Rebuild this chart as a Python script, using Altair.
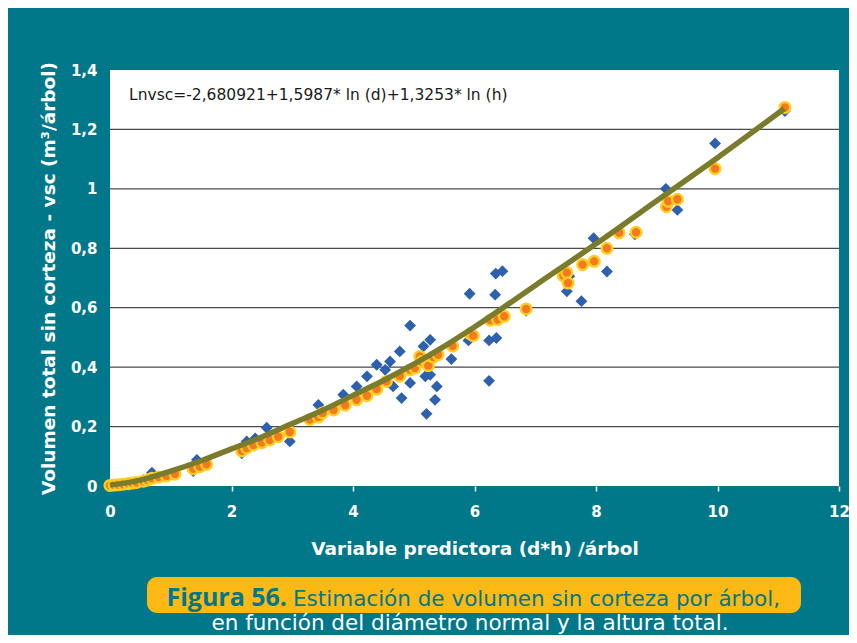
import altair as alt
import pandas as pd

# ---- data ----
obs_x = [0.0, 0.1, 0.25, 0.4, 0.55, 0.69, 0.95, 1.37, 1.43, 1.55,
         2.17, 2.25, 2.39, 2.58, 2.96, 3.3, 3.43,
         3.84, 4.06, 4.23, 4.39, 4.53, 4.61, 4.66, 4.74, 4.77, 4.80, 4.94, 4.94,
         5.16, 5.27, 5.19, 5.27, 5.38, 5.35, 5.21, 5.62, 5.9, 5.92,
         6.24, 6.36, 6.24, 6.34, 6.35, 6.46, 6.85,
         7.52, 7.56, 7.76, 7.96, 8.18, 8.64, 9.15, 9.34, 9.96, 11.11]
obs_y = [0.0, 0.003, 0.006, 0.01, 0.02, 0.045, 0.035, 0.05, 0.088, 0.075,
         0.11, 0.15, 0.16, 0.196, 0.15, 0.225, 0.273,
         0.307, 0.335, 0.369, 0.408, 0.391, 0.419, 0.335, 0.369, 0.453, 0.296, 0.54, 0.347,
         0.47, 0.492, 0.369, 0.374, 0.335, 0.29, 0.243, 0.427, 0.49, 0.647,
         0.49, 0.498, 0.354, 0.644, 0.715, 0.723, 0.59,
         0.655, 0.706, 0.622, 0.834, 0.722, 0.847, 1.0, 0.929, 1.153, 1.262]

pred_x = [0.0, 0.07, 0.14, 0.22, 0.3, 0.37, 0.44, 0.55, 0.62, 0.69, 0.8, 0.93, 1.07, 1.37, 1.48, 1.59,
          2.17, 2.25, 2.36, 2.5, 2.63, 2.77, 2.96,
          3.29, 3.43, 3.5, 3.68, 3.87, 4.06, 4.23, 4.39, 4.55, 4.77, 4.94, 5.02, 5.1, 5.13,
          5.21, 5.24, 5.32, 5.4, 5.64, 5.93, 5.98,
          6.26, 6.38, 6.49, 6.85, 7.46, 7.52, 7.54, 7.78, 7.97, 8.18, 8.38, 8.66,
          9.16, 9.19, 9.34, 9.96, 11.11]
pred_y = [0.002, 0.003, 0.004, 0.006, 0.008, 0.01, 0.012, 0.016, 0.02, 0.026, 0.03, 0.034, 0.04, 0.058, 0.065, 0.073,
          0.118, 0.128, 0.138, 0.146, 0.155, 0.166, 0.182,
          0.224, 0.232, 0.246, 0.256, 0.272, 0.29, 0.304, 0.326, 0.352, 0.37, 0.391, 0.397, 0.436, 0.419,
          0.42, 0.405, 0.434, 0.442, 0.471, 0.512, 0.506,
          0.558, 0.56, 0.571, 0.596, 0.708, 0.718, 0.683, 0.745, 0.756, 0.8, 0.852, 0.854,
          0.94, 0.958, 0.965, 1.068, 1.274]

fit_x = [0, 0.5, 1, 1.5, 2, 2.5, 3, 3.5, 4, 4.5, 5, 5.5, 6, 7, 8, 9, 10, 11.1]
fit_y = [0.003, 0.02, 0.05, 0.085, 0.125, 0.165, 0.21, 0.255, 0.305, 0.355, 0.41, 0.47,
         0.535, 0.675, 0.815, 0.96, 1.105, 1.27]

x_ticks = [0, 2, 4, 6, 8, 10, 12]
y_ticks = [0, 0.2, 0.4, 0.6, 0.8, 1, 1.2, 1.4]
grid_vals = [0.2, 0.4, 0.6, 0.8, 1, 1.2]

equation = "Lnvsc=-2,680921+1,5987* ln (d)+1,3253* ln (h)"
x_title = "Variable predictora (d*h) /árbol"
y_title = "Volumen total sin corteza - vsc (m³/árbol)"
cap_bold = "Figura 56."
cap_rest = "Estimación de volumen sin corteza por árbol,"
cap_line2 = "en función del diámetro normal y la altura total."

TEAL = "#00788A"
W, H = 729, 416
BOLD_FONT = "DejaVu Sans"

obs = pd.DataFrame({"x": obs_x, "y": obs_y})
pred = pd.DataFrame({"x": pred_x, "y": pred_y})
fit = pd.DataFrame({"x": fit_x, "y": fit_y})
grid = pd.DataFrame({"y": grid_vals})

xs = alt.Scale(domain=[0, 12], nice=False, zero=False)
ys = alt.Scale(domain=[0, 1.4], nice=False, zero=False)

xaxis = alt.Axis(values=x_ticks, title=x_title, domain=False, grid=False,
                 labelExpr="toString(datum.value)", labelFlush=False,
                 tickColor="white", tickSize=5, tickWidth=1.5,
                 labelColor="white", labelFont=BOLD_FONT, labelFontWeight="bold",
                 labelFontSize=15, labelPadding=13,
                 titleColor="white", titleFont=BOLD_FONT, titleFontWeight="bold",
                 titleFontSize=18.5, titleBaseline="alphabetic", titleY=68)
yaxis = alt.Axis(values=y_ticks, title=y_title, domain=False, grid=False, ticks=False,
                 labelExpr="replace(toString(datum.value), '.', ',')", labelFlush=False,
                 labelColor="white", labelFont=BOLD_FONT, labelFontWeight="bold",
                 labelFontSize=15, labelPadding=13,
                 titleColor="white", titleFont=BOLD_FONT, titleFontWeight="bold",
                 titleFontSize=18.5, titleAngle=270, titleX=-62, titleY=H / 2,
                 titleAlign="center", titleBaseline="middle")

gridlayer = alt.Chart(grid).mark_rule(color="#4a4a4a", strokeWidth=1.3).encode(
    y=alt.Y("y:Q", scale=ys, axis=yaxis))

blue = alt.Chart(obs).mark_point(shape="diamond", filled=True, size=140,
                                 color="#2D60AE", opacity=1).encode(
    x=alt.X("x:Q", scale=xs, axis=xaxis), y=alt.Y("y:Q", scale=ys))

orange = alt.Chart(pred).mark_point(shape="circle", filled=True, size=115,
                                    fill="#F47A22", stroke="#FFCE1F",
                                    strokeWidth=2.3, opacity=1).encode(
    x=alt.X("x:Q", scale=xs), y=alt.Y("y:Q", scale=ys))

line = alt.Chart(fit).mark_line(color="#7A7C2C", strokeWidth=5.5, interpolate="monotone").encode(
    x=alt.X("x:Q", scale=xs), y=alt.Y("y:Q", scale=ys))

eq = alt.Chart(pd.DataFrame({"t": [equation]})).mark_text(
    align="left", baseline="alphabetic", font="DejaVu Sans", fontSize=15.5, color="#1a1a1a"
).encode(x=alt.value(19), y=alt.value(30), text="t:N")

box = alt.Chart(pd.DataFrame({"t": ["box"]})).mark_rect(
    color="#FDB913", cornerRadius=10
).encode(x=alt.value(37), x2=alt.value(691), y=alt.value(507), y2=alt.value(543))

c1 = alt.Chart(pd.DataFrame({"t": [cap_bold]})).mark_text(
    align="right", baseline="alphabetic", font="Open Sans", fontWeight="bold",
    fontSize=25, color=TEAL
).encode(x=alt.value(177), y=alt.value(536), text="t:N")

c2 = alt.Chart(pd.DataFrame({"t": [cap_rest]})).mark_text(
    align="left", baseline="alphabetic", font="DejaVu Sans", fontSize=21.5, color=TEAL
).encode(x=alt.value(183), y=alt.value(536), text="t:N")

c3 = alt.Chart(pd.DataFrame({"t": [cap_line2]})).mark_text(
    align="center", baseline="alphabetic", font="DejaVu Sans", fontSize=21.5, color="white"
).encode(x=alt.value(360), y=alt.value(560), text="t:N")

chart = alt.layer(gridlayer, blue, orange, line, eq, box, c1, c2, c3).properties(
    width=W, height=H,
    background=TEAL,
    autosize=alt.AutoSizeParams(type="none"),
    padding={"left": 102, "top": 62, "right": 10, "bottom": 149},
).configure_view(fill="white", stroke=None)

chart.save("out.html", embed_options={"renderer": "svg", "actions": False})
